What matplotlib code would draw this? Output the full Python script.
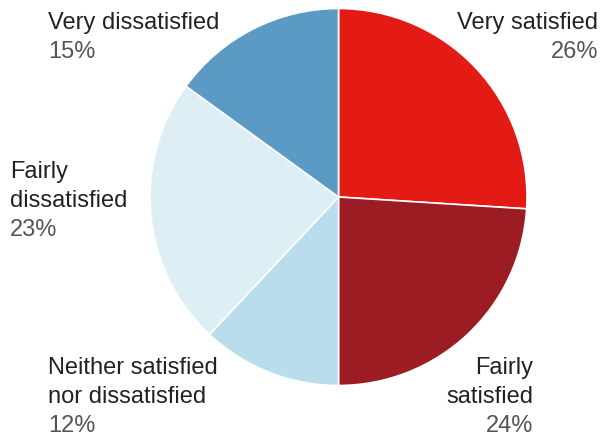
import matplotlib.pyplot as plt

# survey shares, clockwise from 12 o'clock
labels = ["Very satisfied", "Fairly satisfied", "Neither satisfied\nnor dissatisfied",
          "Fairly dissatisfied", "Very dissatisfied"]
shares = [26, 24, 12, 23, 15]
colors = ["#e31b14", "#9c1c23", "#b9ddec", "#ddeef5", "#5b9ac5"]

plt.rcParams['font.family'] = ['Liberation Sans', 'DejaVu Sans']

W, H = 601, 438
fig = plt.figure(figsize=(W / 100, H / 100), dpi=100)
ax = fig.add_axes([0, 0, 1, 1])
ax.set_xlim(0, W)
ax.set_ylim(0, H)
ax.set_aspect('equal')
ax.axis('off')

ax.pie(shares, colors=colors, startangle=90, counterclock=False,
       center=(338.5, H - 197), radius=188.5,
       wedgeprops=dict(edgecolor='white', linewidth=1.2))
ax.set_xlim(0, W)
ax.set_ylim(0, H)

name_kw = dict(fontsize=17, color='#222222', va='baseline', linespacing=1.2)
pct_kw = dict(fontsize=17, color='#555555', va='baseline')

# label blocks: (text lines, x, baseline of first line, alignment)
blocks = [
    (["Very satisfied"], f"{shares[0]}%", 598, 29, 'right'),
    (["Fairly", "satisfied"], f"{shares[1]}%", 533, 374, 'right'),
    (["Neither satisfied", "nor dissatisfied"], f"{shares[2]}%", 48, 374, 'left'),
    (["Fairly", "dissatisfied"], f"{shares[3]}%", 10, 178, 'left'),
    (["Very dissatisfied"], f"{shares[4]}%", 48, 29, 'left'),
]
step = 29
for lines, pct, x, y0, ha in blocks:
    for i, line in enumerate(lines):
        ax.text(x, H - (y0 + i * step), line, ha=ha, **name_kw)
    ax.text(x, H - (y0 + len(lines) * step), pct, ha=ha, **pct_kw)

fig.savefig("out.png", dpi=100)
